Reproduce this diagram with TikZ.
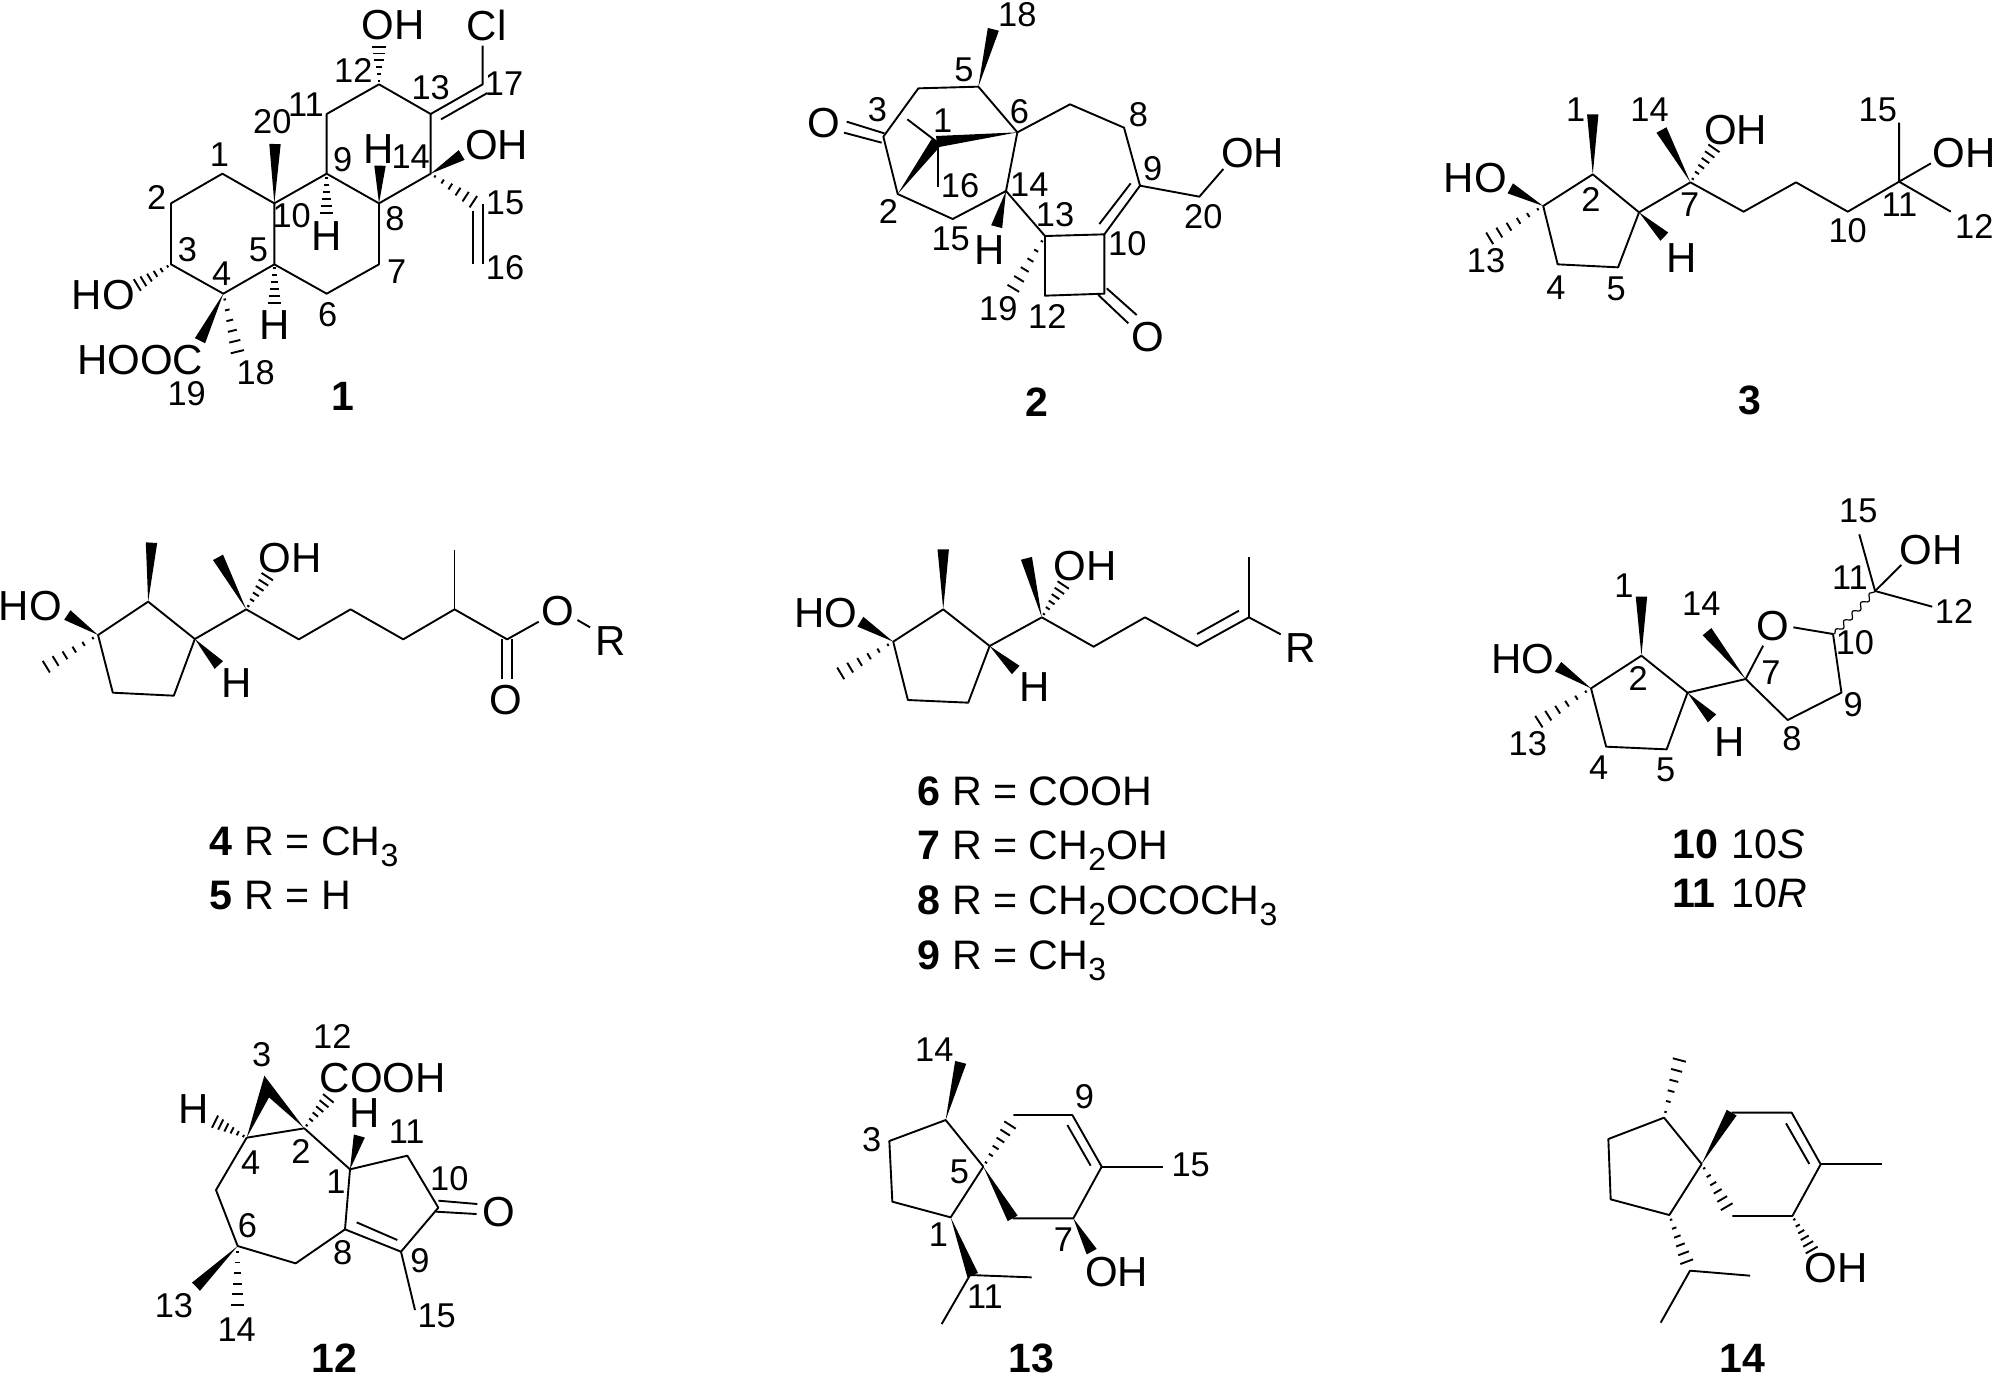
\documentclass[tikz,border=0pt]{standalone}
\usepackage{fontspec}
\setmainfont{Liberation Sans}
\usetikzlibrary{calc,decorations.pathmorphing}
\newcounter{lb}
\newcommand{\wdg}[2]{\fill[black] ($(#2)!2.85pt!90:(#1)$) -- (#1) -- ($(#2)!2.85pt!-90:(#1)$) -- cycle;}
\newcommand{\hsh}[2]{\foreach \t in {0.10,0.28,0.46,0.64,0.82,1.0}{\coordinate (hp) at ($(#1)!\t!(#2)$);\draw[hashl] ($(hp)!{\t*3.1pt+0.3pt}!90:(#1)$) -- ($(hp)!{\t*3.1pt+0.3pt}!-90:(#1)$);}}
\newcommand{\nm}[2]{\stepcounter{lb}\node[numl] (t\arabic{lb}) at (#1) {#2};}
\newcommand{\at}[2]{\stepcounter{lb}\node[atoml] (t\arabic{lb}) at (#1) {#2};}
\newcommand{\bn}[2]{\stepcounter{lb}\node[boldl] (t\arabic{lb}) at (#1) {#2};}
\newcommand{\fm}[2]{\stepcounter{lb}\node[forml] (t\arabic{lb}) at (#1) {#2};}
\newcommand{\sbs}[1]{\raisebox{-0.28em}{\fontsize{16}{16}\selectfont #1}}
\tikzset{
  bond/.style={line width=0.95pt,line join=round},
  hashl/.style={line width=0.95pt},
  numl/.style={inner sep=0pt,font=\fontsize{17.2}{17.2}\selectfont},
  atoml/.style={inner sep=0pt,font=\fontsize{21}{21}\selectfont},
  boldl/.style={inner sep=0pt,font=\fontsize{20.5}{20.5}\selectfont\bfseries},
  forml/.style={inner sep=0pt,anchor=base west,font=\fontsize{20.6}{20.6}\selectfont},
}
\begin{document}
\begin{tikzpicture}[x=0.5pt,y=-0.5pt]
\useasboundingbox (0,0) rectangle (1997,1377);
\fill[white] (0,0) rectangle (1997,1377);
% ---------- 1
\begin{scope}[shift={(60,0)},x=0.16667pt,y=-0.16667pt]
\draw[bond] (643,610)--(487,521)--(333,610)--(333,793)--(490,881)--(643,793)--(643,610)--(800,521)--(957,610)--(957,793)--(800,881)--(643,793);
\draw[bond] (800,521)--(800,342)--(957,253)--(1112,342)--(1112,521)--(957,610);
\draw[bond] (1112,342)--(1268,253)--(1268,137);
\draw[bond] (1143,358)--(1282,279);
\draw[bond] (1268,612)--(1268,792);
\draw[bond] (1238,632)--(1238,792);
\wdg{643,610}{645,432}
\wdg{957,610}{960,497}
\wdg{1112,521}{1205,465}
\wdg{490,881}{420,1022}
\hsh{333,793}{232,855}
\hsh{490,881}{532,1055}
\hsh{643,793}{643,910}
\hsh{800,521}{800,640}
\hsh{957,253}{957,140}
\hsh{1112,521}{1240,605}
\at{1000,75}{OH}\at{1280,75}{Cl}\at{1310,435}{OH}
\at{800,708}{H}\at{957,448}{H}\at{643,975}{H}\at{130,885}{HO}\at{240,1080}{HOOC}
\nm{1332,250}{17}\nm{1112,262}{13}\nm{880,210}{12}\nm{738,315}{11}\nm{637,365}{20}
\nm{478,465}{1}\nm{290,592}{2}\nm{382,748}{3}\nm{485,822}{4}\nm{595,750}{5}
\nm{848,480}{9}\nm{695,648}{10}\nm{1052,470}{14}\nm{1335,608}{15}\nm{1335,802}{16}
\nm{1005,655}{8}\nm{1010,815}{7}\nm{803,945}{6}\nm{587,1117}{18}\nm{380,1180}{19}
\bn{850,1190}{1}
\end{scope}
% ---------- 2
\begin{scope}[shift={(790,0)},x=0.16667pt,y=-0.16667pt]
\draw[bond] (682,397)--(565,260)--(385,265)--(280,410)--(323,582)--(488,657)--(648,573)--(682,397)--(840,313)--(1002,383)--(1050,557)--(943,703)--(765,708)--(765,887)--(943,881)--(943,703);
\draw[bond] (648,573)--(765,708);
\draw[bond] (1050,557)--(1228,590)--(1300,507);
\draw[bond] (1022,550)--(928,672);
\draw[bond] (170,365)--(283,400);
\draw[bond] (162,398)--(275,428);
\draw[bond] (950,865)--(1040,945);
\draw[bond] (925,885)--(1015,970);
\draw[bond] (352,358)--(440,425);
\draw[bond] (445,425)--(445,560);
\wdg{565,260}{610,88}
\wdg{682,397}{440,425}
\wdg{323,582}{440,425}
\wdg{648,573}{620,680}
\hsh{765,708}{670,865}
\at{100,368}{O}\at{1388,458}{OH}\at{600,750}{H}\at{1072,1010}{O}
\nm{682,45}{18}\nm{522,208}{5}\nm{262,328}{3}\nm{458,362}{1}\nm{688,335}{6}
\nm{1045,345}{8}\nm{1088,505}{9}\nm{1240,650}{20}\nm{510,558}{16}\nm{718,555}{14}
\nm{295,635}{2}\nm{482,717}{15}\nm{795,645}{13}\nm{1012,732}{10}\nm{625,925}{19}\nm{772,948}{12}
\bn{740,1205}{2}
\end{scope}
% ---------- 3
\begin{scope}[shift={(1430,80)},x=0.18083pt,y=-0.16667pt]
\draw[bond] (450,283)--(313,378)--(353,553)--(520,562)--(578,397)--(450,283);
\draw[bond] (578,397)--(720,307)--(867,395)--(1012,307)--(1155,395)--(1297,305)--(1440,395);
\draw[bond] (1297,128)--(1297,305)--(1385,250);
\wdg{450,283}{450,103}
\wdg{313,378}{222,325}
\hsh{313,378}{165,475}
\wdg{578,397}{648,470}
\wdg{720,307}{640,150}
\hsh{720,307}{785,205}
\at{845,150}{OH}\at{1477,220}{OH}\at{125,295}{HO}\at{695,535}{H}
\nm{403,90}{1}\nm{607,88}{14}\nm{1238,90}{15}\nm{445,358}{2}\nm{718,375}{7}\nm{1298,375}{11}
\nm{1505,440}{12}\nm{1155,452}{10}\nm{155,542}{13}\nm{348,622}{4}\nm{515,625}{5}
\bn{885,962}{3}
\end{scope}
% ---------- 4, 5
\begin{scope}[shift={(0,520)},x=0.21044pt,y=-0.16667pt]
\draw[bond] (352,245)--(233,345)--(268,518)--(413,527)--(463,357)--(352,245);
\draw[bond] (463,357)--(585,268)--(710,358)--(833,268)--(958,358)--(1080,268)--(1205,358)--(1280,305);
\draw[bond] (1080,90)--(1080,268);
\draw[bond] (1372,300)--(1402,322);
\draw[bond] (1192,358)--(1192,478);
\draw[bond] (1216,358)--(1216,478);
\wdg{352,245}{360,68}
\wdg{233,345}{160,285}
\hsh{233,345}{110,440}
\wdg{463,357}{520,435}
\wdg{585,268}{518,112}
\hsh{585,268}{635,170}
\at{72,258}{HO}\at{690,115}{OH}\at{1325,272}{O}\at{1450,362}{R}\at{1202,540}{O}\at{563,490}{H}
\fm{498,1005}{\textbf{4} R = CH\sbs{3}}
\fm{498,1168}{\textbf{5} R = H}
\end{scope}
% ---------- 6-9
\begin{scope}[shift={(780,520)},x=0.17857pt,y=-0.16667pt]
\draw[bond] (457,268)--(317,365)--(358,540)--(527,548)--(587,378)--(457,268);
\draw[bond] (587,378)--(733,292)--(878,380)--(1022,292)--(1168,378)--(1313,292)--(1402,343);
\draw[bond] (1313,112)--(1313,292);
\draw[bond] (1168,342)--(1285,272);
\wdg{457,268}{457,88}
\wdg{317,365}{225,305}
\hsh{317,365}{170,460}
\wdg{587,378}{660,450}
\wdg{733,292}{690,115}
\hsh{733,292}{793,195}
\at{128,280}{HO}\at{855,138}{OH}\at{1458,385}{R}\at{712,500}{H}
\fm{385,855}{\textbf{6} R = COOH}
\fm{385,1018}{\textbf{7} R = CH\sbs{2}OH}
\fm{385,1183}{\textbf{8} R = CH\sbs{2}OCOCH\sbs{3}}
\fm{385,1348}{\textbf{9} R = CH\sbs{3}}
\end{scope}
% ---------- 10, 11
\begin{scope}[shift={(1470,490)},x=0.16807pt,y=-0.16667pt]
\draw[bond] (510,497)--(360,595)--(405,770)--(585,778)--(647,608)--(510,497);
\draw[bond] (647,608)--(820,567)--(945,690)--(1105,608)--(1080,432)--(962,412);
\draw[bond] (820,567)--(872,467);
\draw[bond] (1158,133)--(1205,303)--(1375,350);
\draw[bond] (1205,303)--(1283,225);
\draw[line width=0.6pt,decorate,decoration={snake,amplitude=1.3pt,segment length=6.2pt}] (1085,432)--(1205,303);
\wdg{510,497}{510,320}
\wdg{360,595}{262,530}
\hsh{360,595}{205,695}
\wdg{647,608}{720,685}
\wdg{820,567}{705,425}
\at{1372,180}{OH}\at{900,408}{O}\at{158,508}{HO}\at{772,755}{H}
\nm{1155,62}{15}\nm{1130,262}{11}\nm{1440,365}{12}\nm{458,288}{1}\nm{688,342}{14}\nm{1145,457}{10}
\nm{500,565}{2}\nm{895,548}{7}\nm{1140,645}{9}\nm{958,745}{8}\nm{172,762}{13}\nm{383,832}{4}\nm{582,838}{5}
\fm{600,1105}{\textbf{10}}\fm{778,1105}{10\textit{S}}
\fm{600,1253}{\textbf{11}}\fm{778,1253}{10\textit{R}}
\end{scope}
% ---------- 12
\begin{scope}[shift={(120,1010)},x=0.16667pt,y=-0.16667pt]
\fill[black] (380,383)--(433,197)--(553,355)--(447,262)--cycle;
\draw[bond] (380,383)--(553,355)--(690,478)--(675,658)--(527,760)--(353,708)--(288,540)--(380,383);
\draw[bond] (690,478)--(862,437)--(955,593)--(843,725)--(675,658);
\draw[bond] (710,637)--(832,690);
\draw[bond] (955,572)--(1072,582);
\draw[bond] (948,605)--(1070,612);
\draw[bond] (843,725)--(885,900);
\wdg{690,478}{718,378}
\wdg{353,708}{228,830}
\hsh{353,708}{353,885}
\hsh{380,383}{285,335}
\hsh{553,355}{625,265}
\at{788,205}{COOH}\at{222,298}{H}\at{733,310}{H}\at{1135,605}{O}
\nm{637,78}{12}\nm{425,135}{3}\nm{860,365}{11}\nm{392,458}{4}\nm{543,425}{2}\nm{648,515}{1}
\nm{988,505}{10}\nm{382,648}{6}\nm{668,728}{8}\nm{900,752}{9}\nm{162,888}{13}\nm{350,958}{14}\nm{950,918}{15}
\bn{642,1045}{12}
\end{scope}
% ---------- 13
\begin{scope}[shift={(840,1010)},x=0.16667pt,y=-0.16667pt]
\draw[bond] (430,470)--(317,330)--(148,393)--(157,575)--(332,622)--(430,470);
\draw[bond] (520,315)--(697,315)--(785,470)--(700,625)--(518,625);
\draw[bond] (682,345)--(752,467);
\draw[bond] (785,470)--(968,470);
\draw[bond] (575,802)--(390,795)--(305,942);
\wdg{332,622}{398,795}
\wdg{317,330}{362,157}
\wdg{430,470}{518,625}
\wdg{700,625}{755,725}
\hsh{430,470}{510,345}
\at{830,785}{OH}
\nm{283,118}{14}\nm{733,260}{9}\nm{95,388}{3}\nm{1052,465}{15}\nm{358,485}{5}\nm{295,675}{1}\nm{670,690}{7}\nm{435,860}{11}
\bn{575,1045}{13}
\end{scope}
% ---------- 14
\begin{scope}[shift={(1560,1030)},x=0.16667pt,y=-0.16667pt]
\draw[bond] (425,402)--(312,263)--(145,327)--(152,508)--(328,555)--(425,402);
\draw[bond] (515,248)--(695,248)--(782,403)--(697,558)--(517,558);
\draw[bond] (678,280)--(748,402);
\draw[bond] (782,403)--(965,403);
\draw[bond] (570,737)--(390,722)--(302,878);
\wdg{425,402}{515,248}
\hsh{312,263}{358,90}
\hsh{425,402}{500,530}
\hsh{328,555}{380,695}
\hsh{697,558}{755,660}
\at{828,715}{OH}
\bn{548,985}{14}
\end{scope}
\end{tikzpicture}
\end{document}
